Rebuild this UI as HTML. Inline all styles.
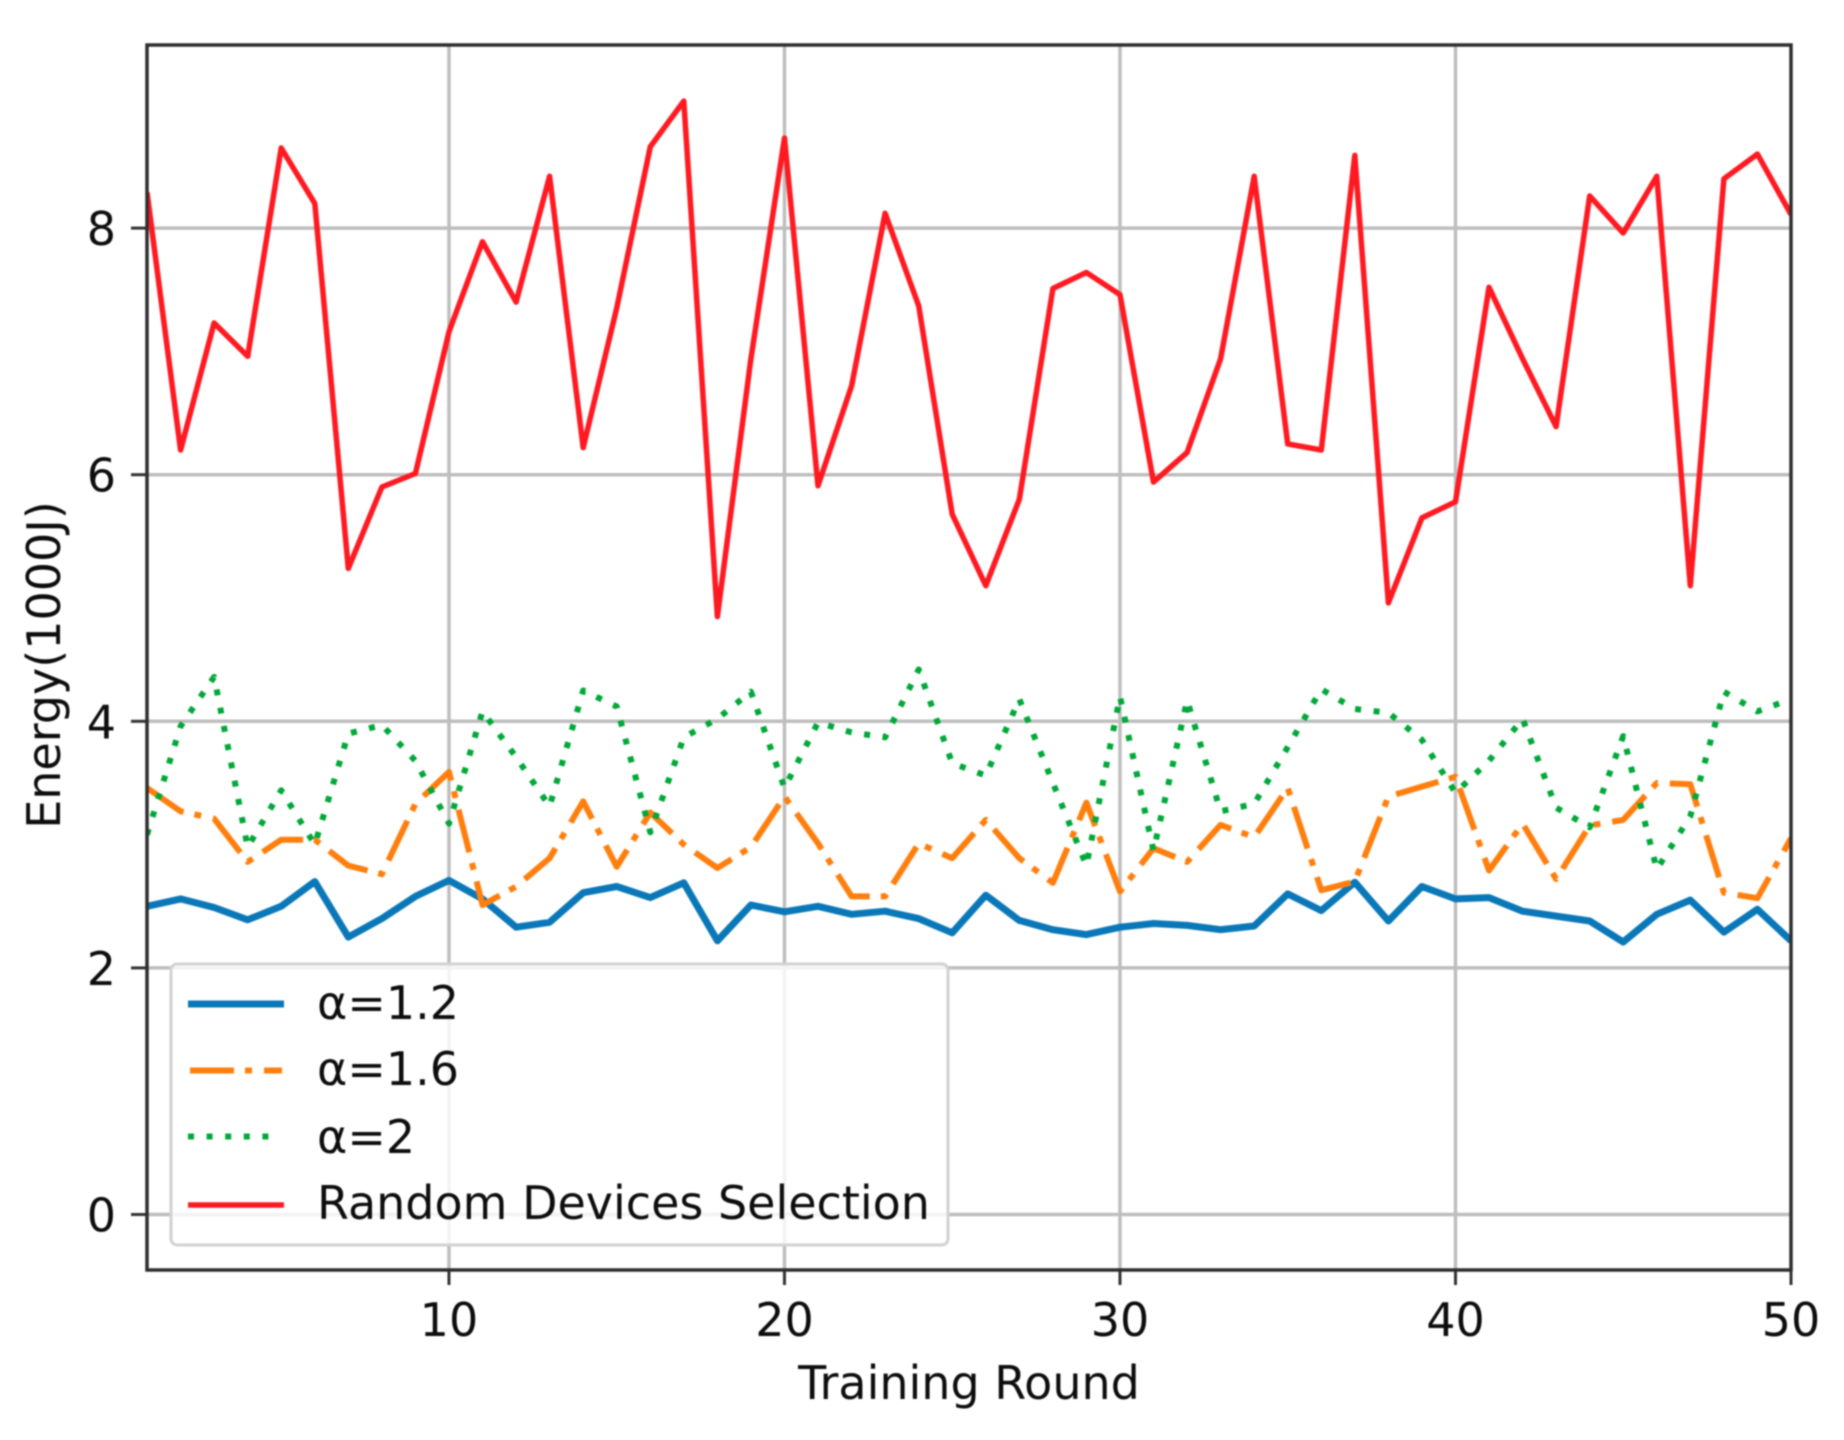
<!DOCTYPE html>
<html lang="en">
<head>
<meta charset="utf-8">
<title>Energy per Training Round</title>
<style>
html,body{margin:0;padding:0;background:#fff;width:1844px;height:1440px;overflow:hidden}
svg{display:block;filter:blur(0.9px)}
text{font-family:"DejaVu Sans","Liberation Sans",sans-serif;fill:#0d0d0d}
</style>
</head>
<body>
<svg id="chart" xmlns="http://www.w3.org/2000/svg" width="1844" height="1440" viewBox="0 0 1844 1440">
  <defs><clipPath id="plot-clip"><rect x="147" y="45" width="1644" height="1225"/></clipPath></defs>
  <rect width="1844" height="1440" fill="#fff"/>
  <g id="grid"></g>
  <g id="series" clip-path="url(#plot-clip)"></g>
  <g id="axes"></g>
  <text x="969" y="1399" font-size="46" text-anchor="middle">Training Round</text>
  <text transform="translate(60,665) rotate(-90)" font-size="46" text-anchor="middle">Energy(1000J)</text>
  <g>
    <rect x="171" y="964" width="777" height="281" rx="6" fill="#fff" fill-opacity="0.82" stroke="#d2d2d2" stroke-width="3"/>
    <g>
      <line x1="188" x2="284" y1="1004" y2="1004" stroke="#0a78b8" stroke-width="7"/>
      <text x="317" y="1019" font-size="46">α=1.2</text>
    </g>
    <g>
      <line x1="190" x2="282" y1="1070.5" y2="1070.5" stroke="#ff7f0e" stroke-width="6" stroke-dasharray="44 11 7 12"/>
      <text x="317" y="1085" font-size="46">α=1.6</text>
    </g>
    <g>
      <line x1="188" x2="276" y1="1136.5" y2="1136.5" stroke="#00a838" stroke-width="6" stroke-dasharray="6 12.6"/>
      <text x="317" y="1153" font-size="46">α=2</text>
    </g>
    <g>
      <line x1="188" x2="284" y1="1205" y2="1205" stroke="#ff1a22" stroke-width="5.5"/>
      <text x="317" y="1219" font-size="46">Random Devices Selection</text>
    </g>
  </g>
</svg>
<script>
const rounds = [1,2,3,4,5,6,7,8,9,10,11,12,13,14,15,16,17,18,19,20,21,22,23,24,25,26,27,28,29,30,31,32,33,34,35,36,37,38,39,40,41,42,43,44,45,46,47,48,49,50];
const alpha12 = [2.50,2.56,2.49,2.39,2.50,2.70,2.25,2.40,2.58,2.71,2.56,2.33,2.37,2.61,2.66,2.57,2.69,2.22,2.51,2.455,2.50,2.435,2.46,2.40,2.285,2.59,2.385,2.31,2.27,2.33,2.36,2.345,2.31,2.34,2.60,2.465,2.695,2.38,2.66,2.56,2.57,2.46,2.42,2.38,2.21,2.435,2.55,2.29,2.475,2.22];
const alpha16 = [3.46,3.27,3.21,2.86,3.04,3.04,2.83,2.76,3.33,3.59,2.51,2.66,2.89,3.35,2.82,3.26,3.00,2.81,2.98,3.39,3.01,2.58,2.58,3.01,2.89,3.20,2.89,2.69,3.34,2.62,2.97,2.86,3.16,3.06,3.46,2.63,2.70,3.39,3.47,3.55,2.79,3.17,2.72,3.155,3.20,3.50,3.49,2.61,2.565,3.05];
const alpha2 = [3.08,3.96,4.36,2.98,3.44,3.00,3.90,3.97,3.68,3.17,4.08,3.71,3.31,4.25,4.12,3.10,3.87,4.02,4.24,3.46,3.99,3.91,3.87,4.42,3.66,3.56,4.18,3.50,2.83,4.20,2.95,4.17,3.27,3.33,3.79,4.26,4.10,4.07,3.85,3.42,3.68,4.02,3.30,3.14,3.88,2.80,3.23,4.24,4.08,4.18];
const randomSelection = [8.29,6.20,7.23,6.96,8.65,8.20,5.24,5.90,6.01,7.16,7.89,7.40,8.42,6.22,7.35,8.66,9.03,4.85,6.94,8.73,5.91,6.72,8.12,7.37,5.68,5.10,5.80,7.51,7.64,7.46,5.94,6.18,6.94,8.42,6.25,6.20,8.59,4.96,5.65,5.78,7.52,6.94,6.39,8.26,7.96,8.42,5.10,8.40,8.60,8.11];
const xTicks = [10,20,30,40,50];
const yTicks = [0,2,4,6,8];

const SVGNS = 'http://www.w3.org/2000/svg';
const LEFT = 147, RIGHT = 1791, TOP = 45, BOTTOM = 1270;
function xScale(v) { return LEFT + (v - 1) * (RIGHT - LEFT) / 49; }
function yScale(v) { return 1214.5 - v * 123.3; }
function make(tag, parent, props) {
  const el = document.createElementNS(SVGNS, tag);
  for (const k in props) el.setAttribute(k, props[k]);
  parent.appendChild(el);
  return el;
}
const gridG = document.getElementById('grid');
const seriesG = document.getElementById('series');
const axesG = document.getElementById('axes');

xTicks.forEach(function (t) {
  const px = xScale(t);
  if (t !== 50) {
    const g = make('line', gridG, {x1: px, x2: px, y1: TOP, y2: BOTTOM, stroke: '#bebebe', 'stroke-width': 3.5});
    
    
  }
  const tick = make('line', axesG, {x1: px, x2: px, y1: BOTTOM, y2: BOTTOM + 15, stroke: '#333', 'stroke-width': 3});
  
  
  const label = make('text', axesG, {x: px, y: 1336, 'font-size': 46, 'text-anchor': 'middle'});
  label.textContent = String(t);
  
  
});
yTicks.forEach(function (t) {
  const py = yScale(t);
  const g = make('line', gridG, {x1: LEFT, x2: RIGHT, y1: py, y2: py, stroke: '#bebebe', 'stroke-width': 3.5});
  
  
  const tick = make('line', axesG, {x1: LEFT - 16, x2: LEFT, y1: py, y2: py, stroke: '#333', 'stroke-width': 3});
  
  
  const label = make('text', axesG, {x: 116, y: py + 17, 'font-size': 46, 'text-anchor': 'end'});
  label.textContent = String(t);
  
  
});

function pointsFor(values) {
  return values.map(function (v, i) { return xScale(rounds[i]).toFixed(1) + ',' + yScale(v).toFixed(1); }).join(' ');
}
const line12 = make('polyline', seriesG, {points: pointsFor(alpha12), fill: 'none', stroke: '#0a78b8', 'stroke-width': 7, 'stroke-linejoin': 'round'});


const line16 = make('polyline', seriesG, {points: pointsFor(alpha16), fill: 'none', stroke: '#ff7f0e', 'stroke-width': 6, 'stroke-dasharray': '44 11 7 12', 'stroke-linejoin': 'round'});


const line2 = make('polyline', seriesG, {points: pointsFor(alpha2), fill: 'none', stroke: '#00a838', 'stroke-width': 6, 'stroke-dasharray': '6 12.6', 'stroke-linejoin': 'round'});


const lineRandom = make('polyline', seriesG, {points: pointsFor(randomSelection), fill: 'none', stroke: '#ff1a22', 'stroke-width': 5.5, 'stroke-linejoin': 'round'});



const frame = make('rect', axesG, {x: LEFT, y: TOP, width: RIGHT - LEFT, height: BOTTOM - TOP, fill: 'none', stroke: '#2e2e2e', 'stroke-width': 3.5});


</script>
</body>
</html>
